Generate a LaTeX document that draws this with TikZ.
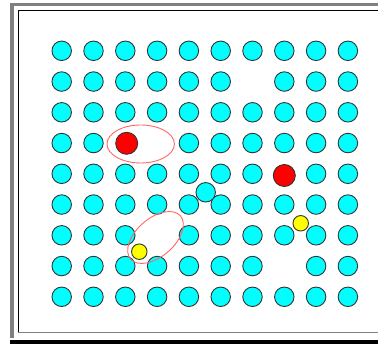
\documentclass[tikz,border=0pt]{standalone}
\usepackage{tikz}
\definecolor{atomcyan}{HTML}{00FFFF}
\definecolor{atomred}{HTML}{FF0000}
\definecolor{atomyellow}{HTML}{FFFF00}
\definecolor{ringred}{HTML}{FF6666}
\definecolor{framegray}{HTML}{808080}
\tikzset{
  atom/.style={circle, draw=black!80, line width=0.9pt, fill=atomcyan, minimum size=19.5pt, inner sep=0pt},
  bigatom/.style={atom, fill=atomred, minimum size=22pt},
  smallatom/.style={atom, fill=atomyellow, minimum size=15.5pt},
  ring/.style={draw=ringred, line width=0.9pt}
}
\begin{document}
\begin{tikzpicture}[x=1pt, y=-1pt]
        \useasboundingbox (0,0) rectangle (378,344);
        % frame
        \fill[framegray] (10,3) rectangle (378,6);
        \fill[framegray] (10,3) rectangle (13.5,338);
        \fill[black] (10,340) rectangle (378,344);
        \draw[black, line width=1pt] (18.3,332.3) -- (18.3,10.3) -- (378,10.3);
        \draw[framegray, line width=1pt] (18.3,332.3) -- (378,332.3);

        % lattice
        \foreach \r/\cols in {0/{0,1,2,3,4,5,6,7,8,9}, 1/{0,1,2,3,4,5,7,8,9},
                              2/{0,1,2,3,4,5,6,7,8,9}, 3/{0,1,4,5,6,7,8,9},
                              4/{0,1,2,3,4,5,6,8,9}, 5/{0,1,2,3,4,5,6,7,8,9},
                              6/{0,1,2,4,5,6,7,8,9}, 7/{0,1,2,3,4,5,6,8,9},
                              8/{0,1,2,3,4,5,6,7,8,9}}
            \foreach \c in \cols
                \node[atom] (a-\r-\c) at ({61.7+31.8*\c},{50.8+30.75*\r}) {};

        % defects
        \node[atom] (inter) at (205.7,192.3) {};
        \node[bigatom] (sub1) at (126.7,143.3) {};
        \node[bigatom] (sub2) at (284.3,175.5) {};
        \node[smallatom] (imp1) at (139.3,251.7) {};
        \node[smallatom] (imp2) at (300.7,223.3) {};

        % loops
        \draw[ring] (140.7,144) ellipse [x radius=33.7, y radius=19];
        \draw[ring, rotate around={41:(155.5,237.5)}] (155.5,237.5) ellipse [x radius=33, y radius=19];
    \end{tikzpicture}
\end{document}
